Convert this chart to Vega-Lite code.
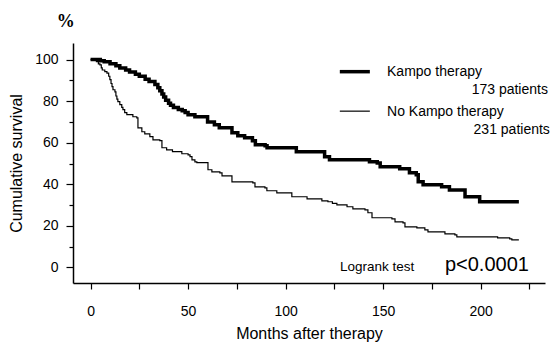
{
  "$schema": "https://vega.github.io/schema/vega-lite/v6.json",
  "width": 472,
  "height": 240,
  "autosize": {"type": "none"},
  "padding": {"left": 73, "top": 43, "right": 9, "bottom": 59},
  "background": "white",
  "config": {
    "view": {"stroke": null},
    "font": "Liberation Sans",
    "axis": {"grid": false, "domainColor": "black", "domainWidth": 1.5, "tickColor": "black", "tickWidth": 1.2, "labelColor": "black", "labelFontSize": 14, "titleColor": "black", "titleFontSize": 16, "titleFontWeight": "normal", "labelFont": "Liberation Sans", "titleFont": "Liberation Sans"}
  },
  "datasets": {
    "curves": [
      {"group": "Kampo therapy", "t": 0, "s": 100},
      {"group": "Kampo therapy", "t": 5, "s": 99.5},
      {"group": "Kampo therapy", "t": 7, "s": 99},
      {"group": "Kampo therapy", "t": 10, "s": 98},
      {"group": "Kampo therapy", "t": 13, "s": 97},
      {"group": "Kampo therapy", "t": 15, "s": 96},
      {"group": "Kampo therapy", "t": 18, "s": 95},
      {"group": "Kampo therapy", "t": 20, "s": 94},
      {"group": "Kampo therapy", "t": 23, "s": 93},
      {"group": "Kampo therapy", "t": 25, "s": 92},
      {"group": "Kampo therapy", "t": 28, "s": 90.5},
      {"group": "Kampo therapy", "t": 30, "s": 89.5},
      {"group": "Kampo therapy", "t": 33, "s": 88},
      {"group": "Kampo therapy", "t": 34.5, "s": 86.5},
      {"group": "Kampo therapy", "t": 35.5, "s": 85},
      {"group": "Kampo therapy", "t": 36.6, "s": 83.5},
      {"group": "Kampo therapy", "t": 37.5, "s": 82},
      {"group": "Kampo therapy", "t": 38.5, "s": 80.5},
      {"group": "Kampo therapy", "t": 40, "s": 79},
      {"group": "Kampo therapy", "t": 41, "s": 78},
      {"group": "Kampo therapy", "t": 42.5, "s": 77},
      {"group": "Kampo therapy", "t": 45, "s": 76},
      {"group": "Kampo therapy", "t": 47, "s": 75.4},
      {"group": "Kampo therapy", "t": 48.5, "s": 74.5},
      {"group": "Kampo therapy", "t": 50, "s": 73.5},
      {"group": "Kampo therapy", "t": 53.5, "s": 72.5},
      {"group": "Kampo therapy", "t": 60, "s": 70},
      {"group": "Kampo therapy", "t": 63.5, "s": 68.7},
      {"group": "Kampo therapy", "t": 66, "s": 67.2},
      {"group": "Kampo therapy", "t": 72.5, "s": 64.8},
      {"group": "Kampo therapy", "t": 75.5, "s": 63.4},
      {"group": "Kampo therapy", "t": 79, "s": 62.4},
      {"group": "Kampo therapy", "t": 83, "s": 61},
      {"group": "Kampo therapy", "t": 84.5, "s": 59},
      {"group": "Kampo therapy", "t": 89.5, "s": 58.6},
      {"group": "Kampo therapy", "t": 90.5, "s": 57.6},
      {"group": "Kampo therapy", "t": 105.5, "s": 55.7},
      {"group": "Kampo therapy", "t": 120, "s": 53.3},
      {"group": "Kampo therapy", "t": 122.5, "s": 51.8},
      {"group": "Kampo therapy", "t": 143, "s": 50.8},
      {"group": "Kampo therapy", "t": 147, "s": 50.3},
      {"group": "Kampo therapy", "t": 148.5, "s": 48.4},
      {"group": "Kampo therapy", "t": 158.5, "s": 47.5},
      {"group": "Kampo therapy", "t": 163.5, "s": 45.5},
      {"group": "Kampo therapy", "t": 167, "s": 44.6},
      {"group": "Kampo therapy", "t": 168, "s": 41.2},
      {"group": "Kampo therapy", "t": 170.5, "s": 39.8},
      {"group": "Kampo therapy", "t": 180, "s": 38.8},
      {"group": "Kampo therapy", "t": 184, "s": 37.3},
      {"group": "Kampo therapy", "t": 192, "s": 34},
      {"group": "Kampo therapy", "t": 199.5, "s": 31.6},
      {"group": "Kampo therapy", "t": 219.6, "s": 31.6},
      {"group": "No Kampo therapy", "t": 0, "s": 100},
      {"group": "No Kampo therapy", "t": 3, "s": 99},
      {"group": "No Kampo therapy", "t": 4, "s": 98},
      {"group": "No Kampo therapy", "t": 4.8, "s": 97.5},
      {"group": "No Kampo therapy", "t": 5.5, "s": 96},
      {"group": "No Kampo therapy", "t": 6, "s": 95},
      {"group": "No Kampo therapy", "t": 7.3, "s": 94.2},
      {"group": "No Kampo therapy", "t": 8.4, "s": 93.5},
      {"group": "No Kampo therapy", "t": 9.3, "s": 92},
      {"group": "No Kampo therapy", "t": 9.9, "s": 90.4},
      {"group": "No Kampo therapy", "t": 10.5, "s": 88.5},
      {"group": "No Kampo therapy", "t": 11, "s": 87},
      {"group": "No Kampo therapy", "t": 11.5, "s": 85.5},
      {"group": "No Kampo therapy", "t": 12.5, "s": 84.5},
      {"group": "No Kampo therapy", "t": 13, "s": 82.5},
      {"group": "No Kampo therapy", "t": 13.5, "s": 81},
      {"group": "No Kampo therapy", "t": 14, "s": 79.8},
      {"group": "No Kampo therapy", "t": 15, "s": 78.3},
      {"group": "No Kampo therapy", "t": 16, "s": 77},
      {"group": "No Kampo therapy", "t": 16.6, "s": 75.9},
      {"group": "No Kampo therapy", "t": 17.5, "s": 74.5},
      {"group": "No Kampo therapy", "t": 18.6, "s": 73.5},
      {"group": "No Kampo therapy", "t": 21.7, "s": 72.5},
      {"group": "No Kampo therapy", "t": 23.7, "s": 72},
      {"group": "No Kampo therapy", "t": 24.3, "s": 67.2},
      {"group": "No Kampo therapy", "t": 26.3, "s": 65.3},
      {"group": "No Kampo therapy", "t": 27.8, "s": 64.3},
      {"group": "No Kampo therapy", "t": 30.4, "s": 62.9},
      {"group": "No Kampo therapy", "t": 32, "s": 61.4},
      {"group": "No Kampo therapy", "t": 35.5, "s": 61},
      {"group": "No Kampo therapy", "t": 36.6, "s": 57.6},
      {"group": "No Kampo therapy", "t": 39, "s": 56.6},
      {"group": "No Kampo therapy", "t": 42, "s": 55.7},
      {"group": "No Kampo therapy", "t": 46.8, "s": 54.7},
      {"group": "No Kampo therapy", "t": 50, "s": 54.2},
      {"group": "No Kampo therapy", "t": 51, "s": 53.3},
      {"group": "No Kampo therapy", "t": 52, "s": 51.8},
      {"group": "No Kampo therapy", "t": 53.5, "s": 50.8},
      {"group": "No Kampo therapy", "t": 54.5, "s": 50.4},
      {"group": "No Kampo therapy", "t": 60.2, "s": 47},
      {"group": "No Kampo therapy", "t": 62.2, "s": 46},
      {"group": "No Kampo therapy", "t": 66.3, "s": 45.5},
      {"group": "No Kampo therapy", "t": 67.4, "s": 44.1},
      {"group": "No Kampo therapy", "t": 72.5, "s": 41.2},
      {"group": "No Kampo therapy", "t": 83.2, "s": 40.7},
      {"group": "No Kampo therapy", "t": 84.3, "s": 38.8},
      {"group": "No Kampo therapy", "t": 89.4, "s": 38.3},
      {"group": "No Kampo therapy", "t": 90.4, "s": 36.9},
      {"group": "No Kampo therapy", "t": 95.5, "s": 35.9},
      {"group": "No Kampo therapy", "t": 103.2, "s": 34},
      {"group": "No Kampo therapy", "t": 111, "s": 33},
      {"group": "No Kampo therapy", "t": 118.6, "s": 32},
      {"group": "No Kampo therapy", "t": 121.7, "s": 31.6},
      {"group": "No Kampo therapy", "t": 124, "s": 30.8},
      {"group": "No Kampo therapy", "t": 126.3, "s": 30.1},
      {"group": "No Kampo therapy", "t": 131.5, "s": 29.2},
      {"group": "No Kampo therapy", "t": 134.5, "s": 28.2},
      {"group": "No Kampo therapy", "t": 140.7, "s": 27.7},
      {"group": "No Kampo therapy", "t": 142.2, "s": 26.3},
      {"group": "No Kampo therapy", "t": 144.3, "s": 23.9},
      {"group": "No Kampo therapy", "t": 154.5, "s": 23.4},
      {"group": "No Kampo therapy", "t": 156.1, "s": 21.9},
      {"group": "No Kampo therapy", "t": 160.2, "s": 21.4},
      {"group": "No Kampo therapy", "t": 161.2, "s": 19.5},
      {"group": "No Kampo therapy", "t": 167.3, "s": 19},
      {"group": "No Kampo therapy", "t": 171.4, "s": 18.1},
      {"group": "No Kampo therapy", "t": 173, "s": 17.1},
      {"group": "No Kampo therapy", "t": 181.7, "s": 16.1},
      {"group": "No Kampo therapy", "t": 186.8, "s": 15.7},
      {"group": "No Kampo therapy", "t": 187.8, "s": 14.7},
      {"group": "No Kampo therapy", "t": 208.7, "s": 14.2},
      {"group": "No Kampo therapy", "t": 214.9, "s": 13.7},
      {"group": "No Kampo therapy", "t": 216, "s": 13.3},
      {"group": "No Kampo therapy", "t": 219.6, "s": 13.3}
    ],
    "legendLines": [
      {"group": "Kampo therapy", "t": 127.8, "t1": 143.2, "s": 94.2},
      {"group": "No Kampo therapy", "t": 127.8, "t1": 143.2, "s": 75.2}
    ],
    "leftLabels": [
      {"label": "Kampo therapy", "t": 152, "s": 93.9},
      {"label": "No Kampo therapy", "t": 152, "s": 74.9}
    ],
    "rightLabels": [
      {"label": "173 patients", "t": 234.5, "s": 85.2},
      {"label": "231 patients", "t": 235.5, "s": 66.0}
    ],
    "logrank": [{"label": "Logrank test", "t": 127.9, "s": 0.24}],
    "pvalue": [{"label": "p<0.0001", "t": 181.7, "s": 0.96}],
    "unit": [{"label": "%", "t": -12.7, "s": 118.2}]
  },
  "encoding": {
    "x": {
      "field": "t",
      "type": "quantitative",
      "scale": {"domain": [-9, 233], "nice": false, "zero": false},
      "axis": {
        "title": "Months after therapy",
        "values": [0, 25, 50, 75, 100, 125, 150, 175, 200, 225],
        "labelExpr": "datum.value % 50 === 0 ? datum.label : ''",
        "tickSize": 6,
        "labelPadding": 15,
        "titlePadding": 7
      }
    },
    "y": {
      "field": "s",
      "type": "quantitative",
      "scale": {"domain": [-7.5, 108], "nice": false, "zero": false},
      "axis": {
        "title": "Cumulative survival",
        "values": [0, 10, 20, 30, 40, 50, 60, 70, 80, 90, 100],
        "labelExpr": "datum.value % 20 === 0 ? datum.label : ''",
        "tickSize": {"condition": {"test": "datum.value % 20 === 0", "value": 7}, "value": 4},
        "labelPadding": 8,
        "titlePadding": 10
      }
    }
  },
  "layer": [
    {
      "data": {"name": "curves"},
      "mark": {"type": "line", "interpolate": "step-after", "color": "black", "strokeCap": "butt"},
      "encoding": {
        "detail": {"field": "group", "type": "nominal"},
        "strokeWidth": {"condition": {"test": "datum.group === 'Kampo therapy'", "value": 3.5}, "value": 1.2}
      }
    },
    {
      "data": {"name": "legendLines"},
      "mark": {"type": "rule", "color": "black"},
      "encoding": {
        "x2": {"field": "t1"},
        "strokeWidth": {"condition": {"test": "datum.group === 'Kampo therapy'", "value": 3.5}, "value": 1.2}
      }
    },
    {
      "data": {"name": "leftLabels"},
      "mark": {"type": "text", "align": "left", "baseline": "middle", "fontSize": 14, "color": "black"},
      "encoding": {"text": {"field": "label"}}
    },
    {
      "data": {"name": "rightLabels"},
      "mark": {"type": "text", "align": "right", "baseline": "middle", "fontSize": 14, "color": "black"},
      "encoding": {"text": {"field": "label"}}
    },
    {
      "data": {"name": "logrank"},
      "mark": {"type": "text", "align": "left", "baseline": "middle", "fontSize": 13.5, "color": "black"},
      "encoding": {"text": {"field": "label"}}
    },
    {
      "data": {"name": "pvalue"},
      "mark": {"type": "text", "align": "left", "baseline": "middle", "fontSize": 20, "color": "black"},
      "encoding": {"text": {"field": "label"}}
    },
    {
      "data": {"name": "unit"},
      "mark": {"type": "text", "align": "center", "baseline": "middle", "fontSize": 18, "fontWeight": "bold", "font": "Liberation Serif", "color": "black"},
      "encoding": {"text": {"field": "label"}}
    }
  ]
}
